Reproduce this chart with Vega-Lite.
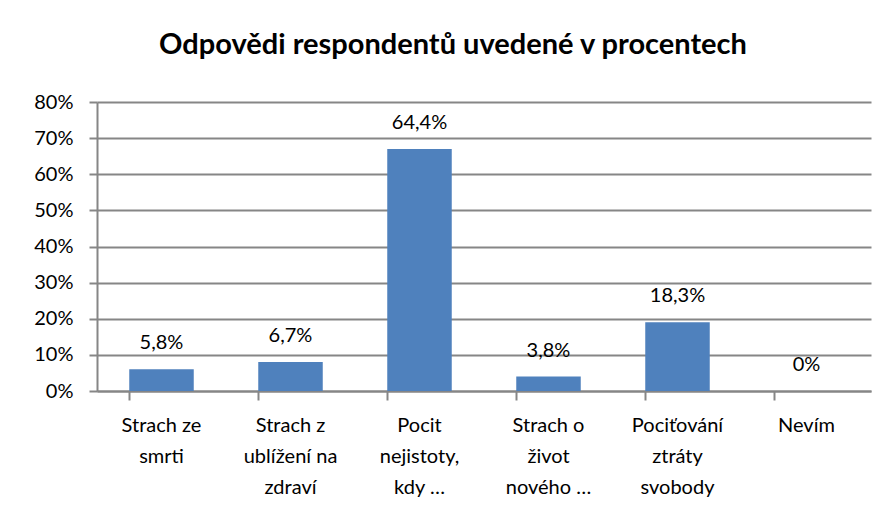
{
  "$schema": "https://vega.github.io/schema/vega-lite/v6.json",
  "autosize": "none",
  "width": 774,
  "height": 289,
  "padding": {"left": 97, "top": 102, "right": 16, "bottom": 127},
  "background": "white",
  "title": {
    "text": "Odpovědi respondentů uvedené v procentech",
    "font": "Lato",
    "fontSize": 29,
    "fontWeight": "bold",
    "color": "black",
    "anchor": "middle",
    "dx": -31,
    "offset": 32
  },
  "config": {
    "view": {"stroke": null},
    "font": "Lato"
  },
  "data": {
    "values": [
      {"kategorie": "Strach ze\nsmrti", "hodnota": 6.0, "popisek": "5,8%"},
      {"kategorie": "Strach z\nublížení na\nzdraví", "hodnota": 8.0, "popisek": "6,7%"},
      {"kategorie": "Pocit\nnejistoty,\nkdy …", "hodnota": 67.0, "popisek": "64,4%"},
      {"kategorie": "Strach o\nživot\nnového …", "hodnota": 4.0, "popisek": "3,8%"},
      {"kategorie": "Pociťování\nztráty\nsvobody", "hodnota": 19.0, "popisek": "18,3%"},
      {"kategorie": "Nevím", "hodnota": 0, "popisek": "0%"}
    ]
  },
  "encoding": {
    "x": {
      "field": "kategorie",
      "type": "nominal",
      "sort": null,
      "scale": {"paddingInner": 0.5, "paddingOuter": 0.25},
      "axis": {
        "title": null,
        "labelAngle": 0,
        "labelExpr": "split(datum.label, '\\n')",
        "labelFont": "Lato",
        "labelFontSize": 20,
        "labelColor": "black",
        "labelLineHeight": 31,
        "labelPadding": 15,
        "labelBaseline": "top",
        "bandPosition": 0,
        "tickSize": 9,
        "tickColor": "#868686",
        "domainColor": "#868686",
        "domainWidth": 2,
        "tickWidth": 2,
        "grid": false,
        "labelLimit": 200
      }
    },
    "y": {
      "field": "hodnota",
      "type": "quantitative",
      "scale": {"domain": [0, 80], "nice": false},
      "axis": {
        "title": null,
        "values": [0, 10, 20, 30, 40, 50, 60, 70, 80],
        "labelExpr": "datum.value + '%'",
        "labelFont": "Lato",
        "labelFontSize": 20,
        "labelColor": "black",
        "labelPadding": 16,
        "tickSize": 8,
        "tickColor": "#868686",
        "tickWidth": 2,
        "domainColor": "#868686",
        "domainWidth": 2,
        "grid": true,
        "gridColor": "#868686",
        "gridWidth": 2
      }
    }
  },
  "layer": [
    {
      "mark": {"type": "bar", "color": "#4F81BD"}
    },
    {
      "mark": {
        "type": "text",
        "baseline": "middle",
        "dy": -26,
        "fontSize": 20,
        "font": "Lato",
        "color": "black"
      },
      "encoding": {"text": {"field": "popisek"}}
    }
  ]
}
